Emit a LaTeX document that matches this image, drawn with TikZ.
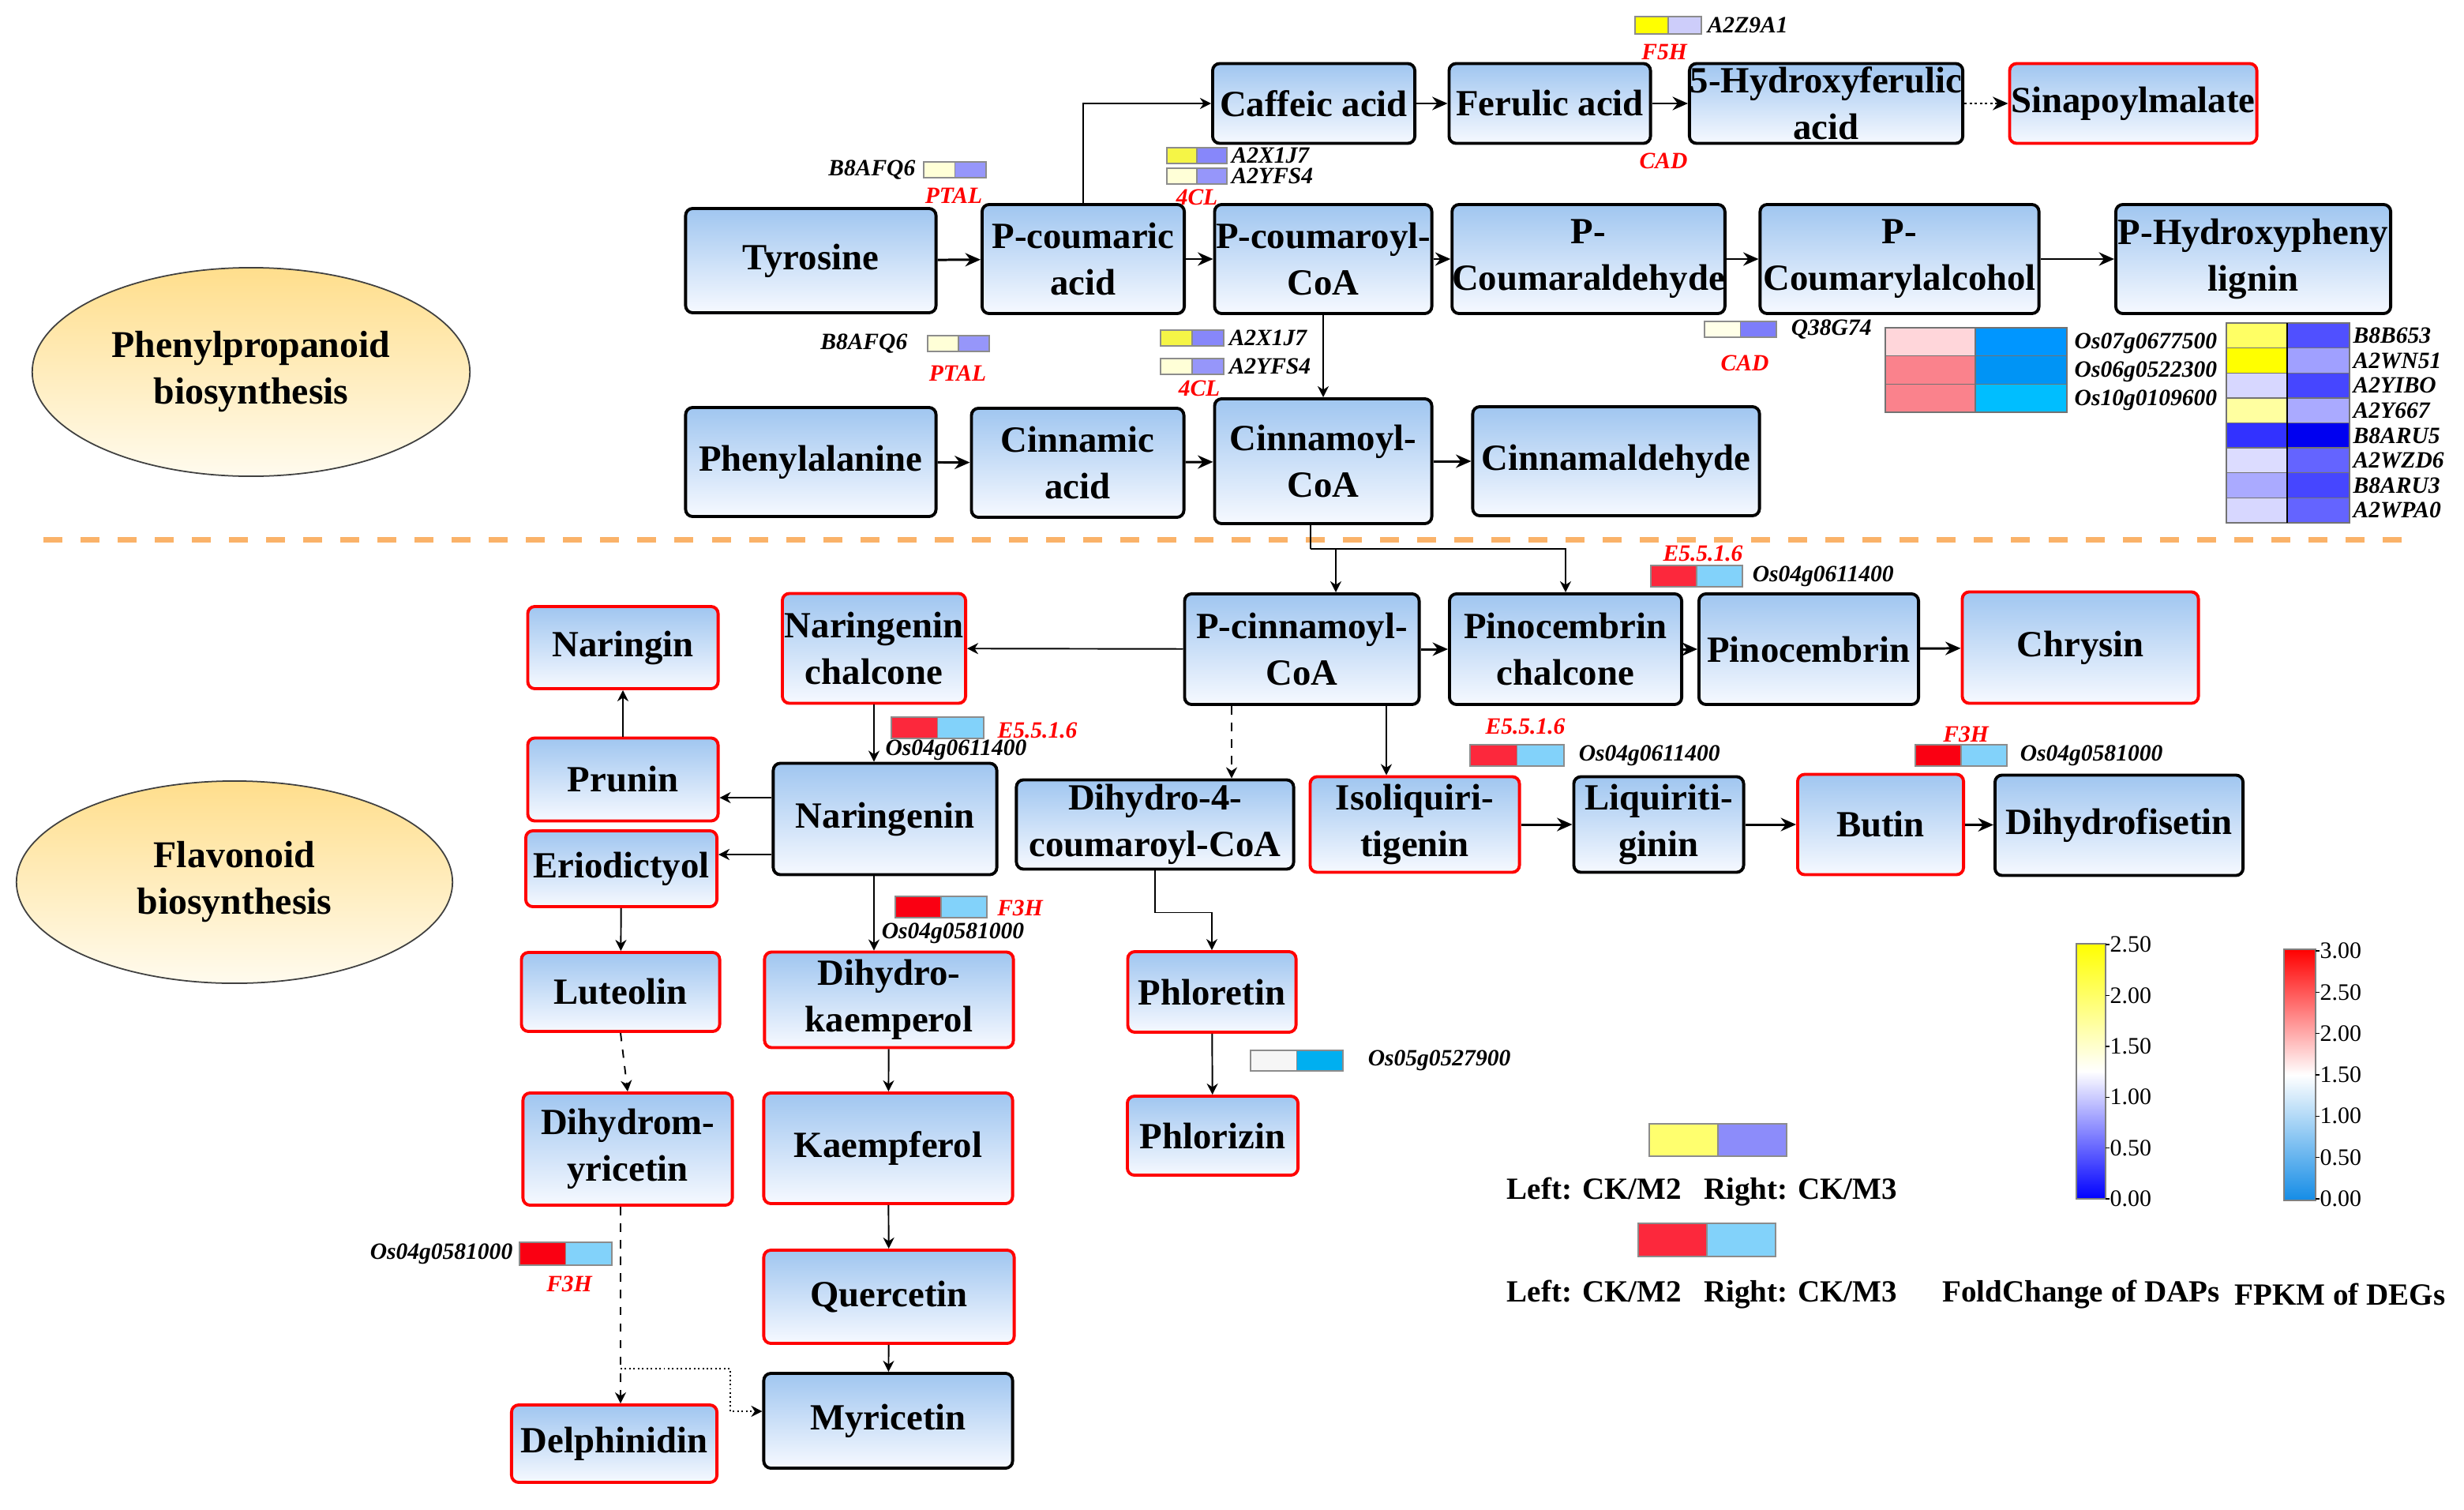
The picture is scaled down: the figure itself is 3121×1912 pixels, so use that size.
\documentclass[tikz,border=0pt]{standalone}
\usepackage{fontspec}
\setmainfont{Liberation Serif}
\usepackage{tikz}
\usetikzlibrary{arrows,arrows.meta,shapes,positioning,calc}

\definecolor{boxtop}{RGB}{160,198,240}
\definecolor{boxbot}{RGB}{246,249,255}
\definecolor{orangedash}{RGB}{250,178,105}
\definecolor{elltop}{RGB}{255,222,140}
\definecolor{ellbot}{RGB}{255,251,238}
\definecolor{cream}{RGB}{255,255,215}
\definecolor{lilac}{RGB}{150,150,250}
\definecolor{yel}{RGB}{245,245,70}
\definecolor{lilacA}{RGB}{135,135,250}
\definecolor{yelF}{RGB}{255,255,0}
\definecolor{lavF}{RGB}{205,205,250}
\definecolor{creamQ}{RGB}{255,255,232}
\definecolor{lilacQ}{RGB}{125,125,250}
\definecolor{redE}{RGB}{252,40,60}
\definecolor{skyE}{RGB}{130,210,250}
\definecolor{redF}{RGB}{250,0,18}
\definecolor{whiteO}{RGB}{246,246,246}
\definecolor{blueO}{RGB}{0,175,240}
\definecolor{legY}{RGB}{255,255,110}
\definecolor{legL}{RGB}{140,140,250}
\definecolor{degA}{RGB}{255,214,218}
\definecolor{degB}{RGB}{250,130,140}
\definecolor{degC}{RGB}{0,150,255}
\definecolor{degD}{RGB}{0,148,245}
\definecolor{degE}{RGB}{0,190,255}
\definecolor{dapY1}{RGB}{255,255,100}
\definecolor{dapY2}{RGB}{255,255,0}
\definecolor{dapY3}{RGB}{255,255,160}
\definecolor{dapL1}{RGB}{215,215,255}
\definecolor{dapL2}{RGB}{220,220,255}
\definecolor{dapL3}{RGB}{170,170,255}
\definecolor{dapB1}{RGB}{50,50,255}
\definecolor{dapR1}{RGB}{80,80,255}
\definecolor{dapR2}{RGB}{160,160,255}
\definecolor{dapR3}{RGB}{70,70,255}
\definecolor{dapR4}{RGB}{170,170,255}
\definecolor{dapR5}{RGB}{0,0,240}
\definecolor{dapR6}{RGB}{100,100,255}
\definecolor{cbBlue}{RGB}{0,0,255}
\definecolor{cbYellow}{RGB}{255,255,0}
\definecolor{fpRed}{RGB}{255,0,0}
\definecolor{fpBlue}{RGB}{20,140,230}

% two coloured cells side by side: name, top left corner, cell width, height, colours
\newcommand{\pairbar}[6]{%
  \node[cell, minimum width=#3cm, minimum height=#4cm, fill=#5, anchor=north west] (#1l) at (#2) {};
  \node[cell, minimum width=#3cm, minimum height=#4cm, fill=#6, right=0pt of #1l] (#1r) {};}
\newcommand{\pairbarat}[7]{\pairbar{#1}{#2,#3}{#4}{#5}{#6}{#7}}

\begin{document}
\begin{tikzpicture}[x=0.01cm, y=-0.01cm]
    \tikzstyle{metab}=[rectangle, rounded corners=0.09cm, draw=black, line width=1.1pt, top color=boxtop, bottom color=boxbot, align=center, inner sep=0pt, font=\bfseries\fontsize{13.3}{16.8}\selectfont]
    \tikzstyle{hit}=[metab, draw=red]
    \tikzstyle{pathway}=[ellipse, draw=black!75, line width=0.5pt, top color=elltop, bottom color=ellbot, align=center, font=\bfseries\fontsize{13.6}{16.8}\selectfont]
    \tikzstyle{gene}=[inner sep=0pt, font=\bfseries\itshape\fontsize{8.4}{10}\selectfont]
    \tikzstyle{enzyme}=[gene, text=red]
    \tikzstyle{cell}=[rectangle, draw=black!45, line width=0.4pt, inner sep=0pt, outer sep=0pt]
    \tikzstyle{flow}=[line width=0.85pt, -{Stealth[length=5.5pt,width=4.8pt]}]
    \tikzstyle{link}=[line width=0.55pt, -{Stealth[length=4pt,width=4pt]}]
    \tikzstyle{legend}=[inner sep=0pt, font=\bfseries\fontsize{11.1}{13}\selectfont]
    \tikzstyle{tick}=[inner sep=0pt, font=\fontsize{8.5}{10}\selectfont]

    \useasboundingbox (0,0) rectangle (3121,1912);

    % phenylpropanoid part
    \node[pathway, minimum width=5.54cm, minimum height=2.64cm] (phenylpath) at (318,471) {Phenylpropanoid\\biosynthesis};

    \node[metab, minimum width=2.56cm, minimum height=1.01cm] (caffeic) at (1664,131) {Caffeic acid};
    \node[metab, minimum width=2.55cm, minimum height=1.01cm] (ferulic) at (1963,131) {Ferulic acid};
    \node[metab, minimum width=3.46cm, minimum height=1.01cm] (hydroxyferulic) at (2313,131) {5-Hydroxyferulic\\acid};
    \node[hit, minimum width=3.13cm, minimum height=1.01cm] (sinapoyl) at (2702,131) {Sinapoylmalate};
    \node[metab, minimum width=3.17cm, minimum height=1.32cm] (tyrosine) at (1027,330) {Tyrosine};
    \node[metab, minimum width=2.56cm, minimum height=1.38cm] (pcoumaric) at (1372,328) {P-coumaric\\acid};
    \node[metab, minimum width=2.75cm, minimum height=1.38cm] (pcoumaroyl) at (1676,328) {P-coumaroyl-\\CoA};
    \node[metab, minimum width=3.14cm, minimum height=1.38cm] (pcoumaraldehyde) at (2012,328) {P-\\Coumaraldehyde};
    \node[metab, minimum width=3.53cm, minimum height=1.38cm] (pcoumarylalcohol) at (2406,328) {P-\\Coumarylalcohol};
    \node[metab, minimum width=3.48cm, minimum height=1.38cm] (phydroxy) at (2854,328) {P-Hydroxypheny\\lignin};
    \node[metab, minimum width=3.17cm, minimum height=1.38cm] (phenylalanine) at (1027,585) {Phenylalanine};
    \node[metab, minimum width=2.69cm, minimum height=1.38cm] (cinnamic) at (1365,586) {Cinnamic\\acid};
    \node[metab, minimum width=2.75cm, minimum height=1.58cm] (cinnamoyl) at (1676,584) {Cinnamoyl-\\CoA};
    \node[metab, minimum width=3.63cm, minimum height=1.38cm] (cinnamaldehyde) at (2047,584) {Cinnamaldehyde};

    \path[flow] (caffeic) edge (ferulic);
    \path[flow] (ferulic) edge (hydroxyferulic);
    \path[flow, densely dotted] (hydroxyferulic) edge (sinapoyl);
    \path[flow] (tyrosine) edge (pcoumaric);
    \path[flow] (pcoumaric) edge (pcoumaroyl);
    \path[flow, dash pattern=on 3pt off 2pt] (pcoumaroyl) edge (pcoumaraldehyde);
    \path[flow] (pcoumaraldehyde) edge (pcoumarylalcohol);
    \path[flow] (pcoumarylalcohol) edge (phydroxy);
    \path[flow] (phenylalanine) edge (cinnamic);
    \path[flow] (cinnamic) edge (cinnamoyl);
    \path[flow] (cinnamoyl) edge (cinnamaldehyde);
    \draw[link] (pcoumaric.north) |- (caffeic.west);
    \draw[link] (pcoumaroyl.south) -- (cinnamoyl.north);

    % enzymes of the upper part
    \pairbarat{ftrans}{2071}{21}{0.42}{0.22}{yelF}{lavF}
    \node[gene, right=0.07cm of ftransr] (ftransgene) {A2Z9A1};
    \node[enzyme] (fiveh) at (2108,66) {F5H};
    \node[enzyme] (cadA) at (2107,204) {CAD};
    \pairbarat{clA}{1478}{187}{0.38}{0.20}{yel}{lilacA}
    \pairbarat{clB}{1478}{213}{0.38}{0.20}{cream}{lilac}
    \node[gene, right=0.05cm of clAr] (clAgene) {A2X1J7};
    \node[gene, right=0.05cm of clBr] (clBgene) {A2YFS4};
    \node[enzyme] (fourclA) at (1516,250) {4CL};
    \pairbarat{ptA}{1170}{205}{0.395}{0.20}{cream}{lilac}
    \node[gene, left=0.1cm of ptAl] (ptAgene) {B8AFQ6};
    \node[enzyme] (ptalA) at (1208,248) {PTAL};
    \pairbarat{ptB}{1175}{425}{0.39}{0.20}{cream}{lilac}
    \node[gene, left=0.25cm of ptBl] (ptBgene) {B8AFQ6};
    \node[enzyme] (ptalB) at (1213,473) {PTAL};
    \pairbarat{clC}{1470}{418}{0.40}{0.20}{yel}{lilacA}
    \pairbarat{clD}{1470}{454}{0.40}{0.20}{cream}{lilac}
    \node[gene, right=0.06cm of clCr] (clCgene) {A2X1J7};
    \node[gene, right=0.06cm of clDr] (clDgene) {A2YFS4};
    \node[enzyme] (fourclB) at (1519,492) {4CL};
    \pairbarat{cadq}{2159}{407}{0.455}{0.20}{creamQ}{lilacQ}
    \node[gene, right=0.18cm of cadqr] (cadqgene) {Q38G74};
    \node[enzyme] (cadB) at (2210,460) {CAD};

    % heat maps
    \foreach \lc/\rc/\gid [count=\k from 0] in {degA/degC/Os07g0677500, degB/degD/Os06g0522300, degB/degE/Os10g0109600} {
      \draw[black!55, fill=\lc] (2388,{415+35.7*\k}) rectangle (2502,{450.7+35.7*\k});
      \draw[black!55, fill=\rc] (2502,{415+35.7*\k}) rectangle (2618,{450.7+35.7*\k});
      \node[gene, anchor=west] (deg\k) at (2627,{435+35.7*\k}) {\gid};
    }
    \foreach \lc/\rc/\pid [count=\k from 0] in {dapY1/dapR1/B8B653, dapY2/dapR2/A2WN51, dapL1/dapR3/A2YIBO, dapY3/dapR4/A2Y667, dapB1/dapR5/B8ARU5, dapL2/dapR6/A2WZD6, dapL3/dapR3/B8ARU3, dapL1/dapR6/A2WPA0} {
      \draw[black!55, fill=\lc] (2820,{409+31.6*\k}) rectangle (2897,{440.6+31.6*\k});
      \draw[black!55, fill=\rc] (2897,{409+31.6*\k}) rectangle (2976,{440.6+31.6*\k});
      \node[gene, anchor=west] (dap\k) at (2980,{425+31.6*\k}) {\pid};
    }
    \draw[black, line width=0.6pt] (2897,409) -- (2897,662);

    % separator
    \draw[orangedash, line width=0.07cm, dash pattern=on 0.24cm off 0.23cm] (55,683) -- (3060,683);

    % flavonoid part
    \node[pathway, minimum width=5.52cm, minimum height=2.56cm] (flavopath) at (297,1117) {Flavonoid\\biosynthesis};

    \node[hit, minimum width=2.41cm, minimum height=1.04cm] (naringin) at (789,820) {Naringin};
    \node[hit, minimum width=2.32cm, minimum height=1.39cm] (narchalcone) at (1107,821) {Naringenin\\chalcone};
    \node[metab, minimum width=2.97cm, minimum height=1.40cm] (pcinnamoyl) at (1649,822) {P-cinnamoyl-\\CoA};
    \node[metab, minimum width=2.94cm, minimum height=1.40cm] (pinochalcone) at (1983,822) {Pinocembrin\\chalcone};
    \node[metab, minimum width=2.78cm, minimum height=1.40cm] (pinocembrin) at (2291,822) {Pinocembrin};
    \node[hit, minimum width=2.99cm, minimum height=1.41cm] (chrysin) at (2635,820) {Chrysin};
    \node[hit, minimum width=2.41cm, minimum height=1.05cm] (prunin) at (789,987) {Prunin};
    \node[metab, minimum width=2.83cm, minimum height=1.41cm] (naringenin) at (1121,1037) {Naringenin};
    \node[hit, minimum width=2.42cm, minimum height=0.96cm] (eriodictyol) at (787,1100) {Eriodictyol};
    \node[metab, minimum width=3.51cm, minimum height=1.13cm] (dihydrofour) at (1463,1044) {Dihydro-4-\\coumaroyl-CoA};
    \node[hit, minimum width=2.65cm, minimum height=1.21cm] (isoliq) at (1792,1044) {Isoliquiri-\\tigenin};
    \node[metab, minimum width=2.15cm, minimum height=1.21cm] (liquiri) at (2101,1044) {Liquiriti-\\ginin};
    \node[hit, minimum width=2.10cm, minimum height=1.27cm] (butin) at (2382,1044) {Butin};
    \node[metab, minimum width=3.14cm, minimum height=1.27cm] (dihydrofisetin) at (2684,1045) {Dihydrofisetin};
    \node[hit, minimum width=2.51cm, minimum height=1.00cm] (luteolin) at (786,1256) {Luteolin};
    \node[hit, minimum width=3.15cm, minimum height=1.21cm] (dihydrokaem) at (1126,1266) {Dihydro-\\kaemperol};
    \node[hit, minimum width=2.13cm, minimum height=1.02cm] (phloretin) at (1535,1256) {Phloretin};
    \node[hit, minimum width=2.65cm, minimum height=1.42cm] (dihydromyr) at (795,1455) {Dihydrom-\\yricetin};
    \node[hit, minimum width=3.15cm, minimum height=1.40cm] (kaempferol) at (1125,1454) {Kaempferol};
    \node[hit, minimum width=2.16cm, minimum height=1.00cm] (phlorizin) at (1536,1438) {Phlorizin};
    \node[hit, minimum width=3.17cm, minimum height=1.18cm] (quercetin) at (1126,1642) {Quercetin};
    \node[metab, minimum width=3.15cm, minimum height=1.20cm] (myricetin) at (1125,1799) {Myricetin};
    \node[hit, minimum width=2.60cm, minimum height=0.98cm] (delphinidin) at (778,1828) {Delphinidin};

    \coordinate (cinsplit) at (1660,695);
    \coordinate (pcintap) at (1692,695);
    \coordinate (dihydroin) at ($(pcinnamoyl.south)+(-89,0)$);
    \coordinate (isoin) at ($(pcinnamoyl.south)+(107,0)$);
    \coordinate (toprunin) at ($(naringenin.west)+(0,-27)$);
    \coordinate (toerio) at ($(naringenin.west)+(0,45)$);
    \coordinate (mybend) at (925,1733);

    \draw[line width=0.55pt] (cinnamoyl.south -| cinsplit) -- (cinsplit);
    \draw[link] (cinsplit) -| (pinochalcone.north);
    \draw[link] (pcintap) -- (pcintap |- pcinnamoyl.north);
    \draw[link] (pcinnamoyl) -- (narchalcone);
    \path[flow] (pcinnamoyl) edge (pinochalcone);
    \path[flow] (pinochalcone) edge (pinocembrin);
    \path[flow] (pinocembrin) edge (chrysin);
    \draw[link, dashed] (dihydroin) -- (dihydroin |- dihydrofour.north);
    \draw[link] (isoin) -- (isoin |- isoliq.north);
    \path[flow] (isoliq) edge (liquiri);
    \path[flow] (liquiri) edge (butin);
    \path[flow] (butin) edge (dihydrofisetin);
    \draw[link] (narchalcone.south) -- (narchalcone.south |- naringenin.north);
    \draw[link] (toprunin) -- (toprunin -| prunin.east);
    \draw[link] (toerio) -- (toerio -| eriodictyol.east);
    \draw[link] (prunin) -- (naringin);
    \draw[link] (naringenin.south -| narchalcone.south) -- (dihydrokaem.north -| narchalcone.south);
    \draw[link] (eriodictyol) -- (luteolin);
    \draw[link, dashed] (luteolin.south) -- (dihydromyr.north);
    \draw[link, dashed] (dihydromyr.south -| luteolin.south) -- (delphinidin.north -| luteolin.south);
    \draw[link, densely dotted] (mybend -| luteolin.south) -- (mybend) |- ([yshift=0.12cm]myricetin.west);
    \draw[link] (dihydrokaem) -- (kaempferol);
    \draw[link] (kaempferol) -- (quercetin);
    \draw[link] (quercetin) -- (myricetin);
    \draw[link] (dihydrofour.south) -- ++(0,53) -| (phloretin.north);
    \draw[link] (phloretin) -- (phlorizin);

    % enzymes of the lower part
    \pairbarat{epiA}{2091}{716}{0.58}{0.27}{redE}{skyE}
    \node[enzyme] (epiAname) at (2157,701) {E5.5.1.6};
    \node[gene, right=0.12cm of epiAr] (epiAgene) {Os04g0611400};
    \pairbarat{epiB}{1129}{908}{0.585}{0.27}{redE}{skyE}
    \node[enzyme] (epiBname) at (1314,925) {E5.5.1.6};
    \node[gene] (epiBgene) at (1211,950) {Os04g0611400};
    \pairbarat{epiC}{1862}{943}{0.595}{0.27}{redE}{skyE}
    \node[enzyme] (epiCname) at (1932,920) {E5.5.1.6};
    \node[gene, right=0.18cm of epiCr] (epiCgene) {Os04g0611400};
    \pairbarat{fthA}{1134}{1135}{0.58}{0.27}{redF}{skyE}
    \node[enzyme] (fthAname) at (1292,1150) {F3H};
    \node[gene] (fthAgene) at (1207,1182) {Os04g0581000};
    \pairbarat{fthB}{2426}{943}{0.58}{0.27}{redF}{skyE}
    \node[enzyme] (fthBname) at (2490,930) {F3H};
    \node[gene, right=0.16cm of fthBr] (fthBgene) {Os04g0581000};
    \pairbarat{fthC}{658}{1573}{0.585}{0.29}{redF}{skyE}
    \node[gene, left=0.08cm of fthCl] (fthCgene) {Os04g0581000};
    \node[enzyme] (fthCname) at (721,1626) {F3H};
    \pairbarat{phl}{1584}{1330}{0.585}{0.26}{whiteO}{blueO}
    \node[gene, right=0.31cm of phlr] (phlgene) {Os05g0527900};

    % legends
    \pairbarat{legA}{2089}{1423}{0.87}{0.41}{legY}{legL}
    \node[legend] (legAtext) at (2156,1509) {Left: CK/M2\hspace{0.28cm}Right: CK/M3};
    \pairbarat{legB}{2075}{1549}{0.87}{0.42}{redE}{skyE}
    \node[legend] (legBtext) at (2156,1639) {Left: CK/M2\hspace{0.28cm}Right: CK/M3};

    \shade[top color=cbYellow, bottom color=cbBlue, middle color=white] (2630,1195) rectangle (2667,1518);
    \draw[black!50, line width=0.4pt] (2630,1195) rectangle (2667,1518);
    \foreach \v [count=\k from 0] in {2.50,2.00,1.50,1.00,0.50,0.00}
      \draw[line width=0.4pt] (2667,{1196+64.4*\k}) -- ++(5,0) node[tick, anchor=west] (dapt\k) {\v};
    \shade[top color=fpRed, bottom color=fpBlue, middle color=white] (2893,1202) rectangle (2933,1520);
    \draw[black!50, line width=0.4pt] (2893,1202) rectangle (2933,1520);
    \foreach \v [count=\k from 0] in {3.00,2.50,2.00,1.50,1.00,0.50,0.00}
      \draw[line width=0.4pt] (2933,{1204+52.3*\k}) -- ++(5,0) node[tick, anchor=west] (fpkt\k) {\v};
    \node[legend] (daplegend) at (2636,1639) {FoldChange of DAPs};
    \node[legend] (deglegend) at (2964,1639) {FPKM of DEGs};
\end{tikzpicture}
\end{document}
